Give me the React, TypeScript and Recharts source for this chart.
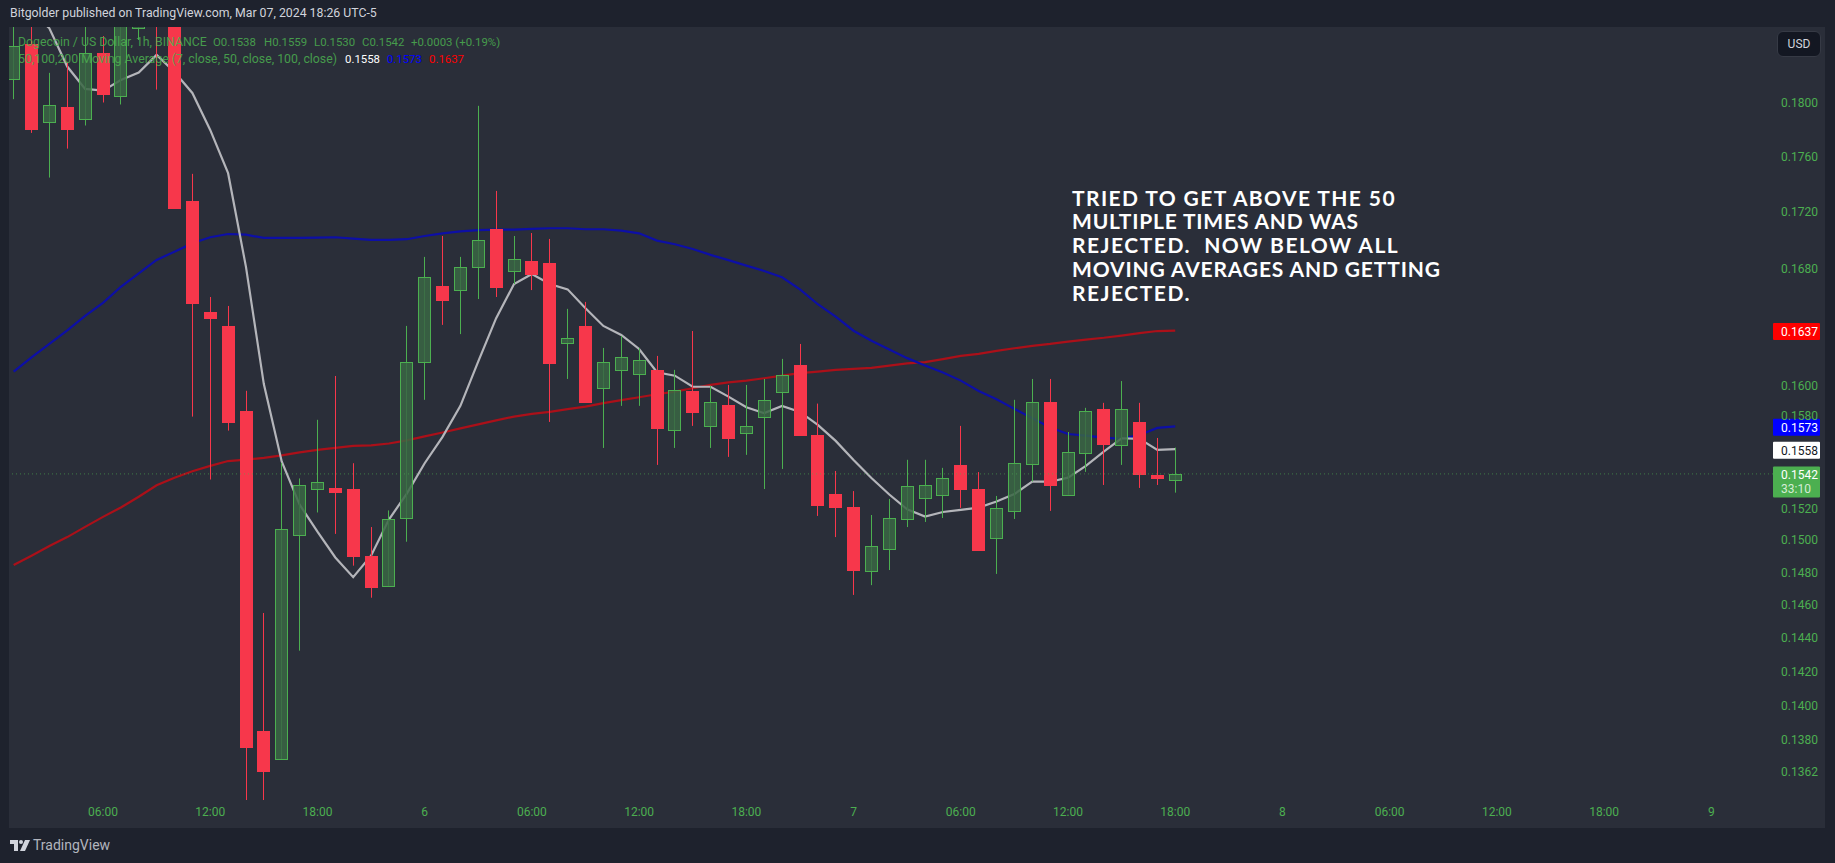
import { ComposedChart, Bar, Line, XAxis, YAxis, ReferenceLine } from 'recharts';

const opens = [
  0.18184, 0.18449, 0.17857, 0.17971, 0.17879, 0.18378, 0.18056, 0.18572, 0.1895, 0.188, 0.1728,
  0.16499, 0.16402, 0.15831, 0.13852, 0.1369, 0.15035, 0.15322, 0.1533, 0.15324, 0.14901, 0.14717,
  0.15137, 0.16155, 0.16677, 0.16647, 0.16808, 0.17076, 0.16785, 0.16853, 0.16839, 0.16288, 0.16402,
  0.15985, 0.16106, 0.16079, 0.16104, 0.15708, 0.15963, 0.15734, 0.15871, 0.15688, 0.15793, 0.15958,
  0.16137, 0.15673, 0.15291, 0.15209, 0.1481, 0.14947, 0.15135, 0.15268, 0.15287, 0.15478, 0.15323,
  0.15015, 0.15186, 0.15487, 0.1589, 0.15287, 0.15558, 0.15844, 0.1561, 0.15758, 0.15413, 0.1538,
];
const highs = [
  0.1885, 0.188, 0.18228, 0.18312, 0.187, 0.1851, 0.188, 0.1885, 0.1905, 0.189, 0.17476, 0.16601,
  0.16539, 0.15964, 0.14551, 0.15491, 0.15391, 0.15772, 0.16063, 0.15489, 0.15082, 0.15187, 0.16402,
  0.16881, 0.17029, 0.16881, 0.17979, 0.17352, 0.17029, 0.1705, 0.17008, 0.16519, 0.16567, 0.16252,
  0.16333, 0.16252, 0.16198, 0.16104, 0.16367, 0.15996, 0.16003, 0.16003, 0.16043, 0.16178, 0.16279,
  0.15879, 0.15439, 0.1531, 0.15158, 0.1526, 0.15511, 0.15511, 0.15459, 0.15732, 0.15432, 0.15279,
  0.15904, 0.16043, 0.16043, 0.15692, 0.15851, 0.15884, 0.16029, 0.15884, 0.15653, 0.1559,
];
const lows = [
  0.18029, 0.17777, 0.17449, 0.17661, 0.17832, 0.18004, 0.17989, 0.1848, 0.18101, 0.17225, 0.15793,
  0.15384, 0.15701, 0.1345, 0.1345, 0.1369, 0.14324, 0.15174, 0.15039, 0.14841, 0.14644, 0.14717,
  0.1499, 0.15904, 0.16409, 0.16346, 0.16587, 0.16601, 0.16691, 0.16649, 0.15758, 0.16043, 0.15884,
  0.15588, 0.15864, 0.15864, 0.15478, 0.15588, 0.15732, 0.15588, 0.1553, 0.15543, 0.15323, 0.15452,
  0.15666, 0.15152, 0.15019, 0.14661, 0.14721, 0.14814, 0.15082, 0.15114, 0.15139, 0.15203, 0.14932,
  0.1479, 0.15133, 0.15371, 0.15184, 0.15287, 0.15433, 0.15349, 0.15478, 0.1533, 0.15349, 0.153,
];
const closes = [
  0.18434, 0.17802, 0.17984, 0.17795, 0.18378, 0.18063, 0.187, 0.1875, 0.1875, 0.17225, 0.16556,
  0.16452, 0.15749, 0.13755, 0.13619, 0.15067, 0.15346, 0.15366, 0.15295, 0.14897, 0.14706, 0.1513,
  0.16155, 0.16738, 0.16574, 0.16808, 0.16999, 0.16663, 0.16865, 0.16754, 0.16144, 0.16317, 0.15884,
  0.16156, 0.16189, 0.16169, 0.15711, 0.15968, 0.15818, 0.15888, 0.15647, 0.1573, 0.15902, 0.16069,
  0.15666, 0.15215, 0.15203, 0.14808, 0.14961, 0.15137, 0.1534, 0.15347, 0.15392, 0.15317, 0.14932,
  0.15201, 0.15489, 0.15888, 0.15342, 0.1556, 0.15829, 0.15608, 0.15842, 0.15413, 0.15387, 0.1542,
];
const ma7 = [
  0.1885, 0.187, 0.1857, 0.18276, 0.18106, 0.18093, 0.18174, 0.1823, 0.18365, 0.18235, 0.18076,
  0.17799, 0.17481, 0.16811, 0.16009, 0.155, 0.15224, 0.15053, 0.14892, 0.1477, 0.14903, 0.15129,
  0.15294, 0.15489, 0.1566, 0.15864, 0.16161, 0.16455, 0.16691, 0.16761, 0.16691, 0.16654, 0.16523,
  0.16402, 0.1634, 0.16245, 0.16088, 0.16065, 0.15991, 0.15991, 0.15925, 0.15855, 0.15816, 0.15864,
  0.15824, 0.15739, 0.15634, 0.1551, 0.15394, 0.15288, 0.15194, 0.15148, 0.15177, 0.1519, 0.15205,
  0.15243, 0.15291, 0.1537, 0.1537, 0.15396, 0.15472, 0.15564, 0.15651, 0.15647, 0.15575, 0.1558,
];
const ma50 = [
  0.16092, 0.16188, 0.1628, 0.16371, 0.1647, 0.16561, 0.16672, 0.16766, 0.1686, 0.16918, 0.16977,
  0.1702, 0.17043, 0.17038, 0.17015, 0.17015, 0.17015, 0.17017, 0.1702, 0.1701, 0.17001, 0.17001,
  0.17006, 0.17029, 0.17048, 0.17062, 0.1707, 0.17074, 0.17074, 0.17079, 0.17084, 0.17084, 0.17077,
  0.17077, 0.17067, 0.17048, 0.16996, 0.1697, 0.16937, 0.16895, 0.16858, 0.1682, 0.16782, 0.16738,
  0.16654, 0.16551, 0.16466, 0.16369, 0.16301, 0.16241, 0.16183, 0.16133, 0.16086, 0.16032, 0.15963,
  0.15908, 0.15844, 0.15783, 0.15721, 0.15679, 0.15668, 0.15655, 0.15647, 0.15673, 0.15719, 0.15729,
];
const ma100 = [
  0.14845, 0.14903, 0.14963, 0.15019, 0.15083, 0.15146, 0.15206, 0.15274, 0.15347, 0.15396, 0.15437,
  0.15472, 0.15503, 0.15512, 0.15524, 0.1554, 0.15559, 0.15575, 0.15588, 0.15601, 0.15605, 0.15617,
  0.15637, 0.15663, 0.15689, 0.15716, 0.15742, 0.15768, 0.15793, 0.15811, 0.15824, 0.15842, 0.15859,
  0.15882, 0.15902, 0.15921, 0.15941, 0.15958, 0.15981, 0.16003, 0.1602, 0.16032, 0.16048, 0.16065,
  0.16082, 0.16092, 0.16104, 0.1611, 0.16117, 0.16133, 0.16148, 0.16156, 0.16176, 0.16198, 0.16212,
  0.16232, 0.1625, 0.16266, 0.16279, 0.16295, 0.16309, 0.16321, 0.16336, 0.16353, 0.16367, 0.1637,
];
const timeTicks = [6, 12, 18, 24, 30, 36, 42, 48, 54, 60, 66, 72, 78, 84, 90, 96];
const timeLabels = [
  '06:00', '12:00', '18:00', '6', '06:00', '12:00', '18:00', '7',
  '06:00', '12:00', '18:00', '8', '06:00', '12:00', '18:00', '9',
];
const priceTicks = [
  0.18, 0.176, 0.172, 0.168, 0.16, 0.158, 0.152, 0.15, 0.148, 0.146, 0.144, 0.142, 0.14, 0.138,
  0.1362,
];
const noteLines = [
  'TRIED TO GET ABOVE THE 50',
  'MULTIPLE TIMES AND WAS',
  'REJECTED.  NOW BELOW ALL',
  'MOVING AVERAGES AND GETTING',
  'REJECTED.',
];
const noteSpacing = [1.4, 0.8, 1.5, 0.85, 1.5];

const data = opens.map((open, i) => ({
  hour: i + 1,
  open,
  close: closes[i],
  high: highs[i],
  low: lows[i],
  range: [lows[i], highs[i]],
  ma7: ma7[i],
  ma50: ma50[i],
  ma100: ma100[i],
}));

const GREEN = '#4caf50';
const RED = '#f7374b';
const FONT = 'Roboto, sans-serif';

const Candle = (props: any) => {
  const { x, y, width, height, payload } = props;
  const { open, close, high, low } = payload;
  const up = close >= open;
  // the axis is logarithmic, so body edges sit at log fractions of the wick
  const span = Math.log(high / low);
  const at = (v: number) => y + (height * Math.log(high / v)) / span;
  const cx = Math.round(x + width / 2);
  const top = Math.round(at(Math.max(open, close)));
  const bottom = Math.round(at(Math.min(open, close)));
  const color = up ? GREEN : RED;
  return (
    <g>
      <line x1={cx + 0.5} x2={cx + 0.5} y1={y} y2={y + height} stroke={color} strokeWidth={1} />
      {up ? (
        <rect
          x={cx - 5.5}
          y={top + 0.5}
          width={12}
          height={Math.max(bottom - top, 1)}
          fill="#3a6644"
          fillOpacity={0.85}
          stroke={GREEN}
          strokeWidth={1}
        />
      ) : (
        <rect x={cx - 6} y={top} width={13} height={Math.max(bottom - top, 1)} fill={RED} />
      )}
    </g>
  );
};

const Badge = (props: any) => {
  const { viewBox, text, sub, fill, color = '#fff' } = props;
  const top = viewBox.y - 7.5;
  const left = viewBox.x + viewBox.width;
  return (
    <g>
      <rect x={left} y={top} width={47} height={sub ? 31 : 17} rx={1} fill={fill} />
      <text x={left + 8} y={top + 13} fontSize={12} fontFamily={FONT} fill={color}>
        {text}
      </text>
      {sub && (
        <text x={left + 8} y={top + 27} fontSize={12} fontFamily={FONT} fill="#d5ecd6">
          {sub}
        </text>
      )}
    </g>
  );
};

const legendSpan = (left: number, top: number, text: string, fontSize = 11.4, color = GREEN, opacity = 0.85) => (
  <div style={{ position: 'absolute', left, top, fontSize, color, opacity, whiteSpace: 'pre' }}>{text}</div>
);

export default function App() {
  return (
    <div style={{ position: 'absolute', left: 0, top: 0, width: 1835, height: 863, background: '#1e222d', overflow: 'hidden', fontFamily: FONT }}>
      <div style={{ position: 'absolute', left: 9, top: 27, width: 1816, height: 801, background: '#2a2e39' }} />

      <div style={{ position: 'absolute', left: 0, top: 0 }}>
        <ComposedChart
          width={1835}
          height={863}
          data={data}
          margin={{ top: 27, right: 10, bottom: 35, left: 9 }}
          barSize={13}
        >
          <XAxis
            type="number"
            dataKey="hour"
            scale="linear"
            domain={[0.74, 99.45]}
            allowDataOverflow
            ticks={timeTicks}
            interval={0}
            height={28}
            axisLine={false}
            tickLine={false}
            tickSize={0}
            tickMargin={7}
            tick={{ fill: GREEN, fontSize: 12, fontFamily: FONT }}
            tickFormatter={(v: number) => timeLabels[timeTicks.indexOf(v)]}
          />
          <YAxis
            orientation="right"
            scale="log"
            domain={[0.13459, 0.1858]}
            allowDataOverflow
            ticks={priceTicks}
            interval={0}
            width={52}
            axisLine={false}
            tickLine={false}
            tickSize={0}
            tickMargin={8}
            tick={{ fill: GREEN, fontSize: 12, fontFamily: FONT }}
            tickFormatter={(v: number) => v.toFixed(4)}
          />
          <ReferenceLine y={0.1542} stroke={GREEN} strokeOpacity={0.6} strokeDasharray="1 3" />
          <Line dataKey="ma100" stroke="#ab1019" strokeWidth={2.2} dot={false} isAnimationActive={false} zIndex={250} />
          <Line dataKey="ma50" stroke="#0d0fa6" strokeWidth={2.2} dot={false} isAnimationActive={false} zIndex={250} />
          <Line dataKey="ma7" stroke="#b4b5ba" strokeWidth={2.2} dot={false} isAnimationActive={false} zIndex={250} />
          <Bar dataKey="range" shape={<Candle />} isAnimationActive={false} />
          <ReferenceLine y={0.1637} stroke="none" label={<Badge text="0.1637" fill="#ff0000" />} />
          <ReferenceLine y={0.1573} stroke="none" label={<Badge text="0.1573" fill="#0000ff" />} />
          <ReferenceLine y={0.1558} stroke="none" label={<Badge text="0.1558" fill="#ffffff" color="#131722" />} />
          <ReferenceLine y={0.1542} stroke="none" label={<Badge text="0.1542" sub="33:10" fill={GREEN} />} />
        </ComposedChart>
      </div>

      <div style={{ position: 'absolute', left: 10, top: 6, fontSize: 12.3, color: '#d1d4dc', whiteSpace: 'nowrap' }}>
        Bitgolder published on TradingView.com, Mar 07, 2024 18:26 UTC-5
      </div>
      {legendSpan(18, 35, 'Dogecoin / US Dollar, 1h, BINANCE', 12.3)}
      {legendSpan(213, 35, 'O0.1538')}
      {legendSpan(264, 35, 'H0.1559')}
      {legendSpan(314, 35, 'L0.1530')}
      {legendSpan(362, 35, 'C0.1542')}
      {legendSpan(411, 35, '+0.0003 (+0.19%)')}
      {legendSpan(18, 52, '50,100,200 Moving Average (7, close, 50, close, 100, close)', 12.3)}
      {legendSpan(345, 52, '0.1558', 11.4, '#ffffff', 1)}
      {legendSpan(387, 52, '0.1573', 11.4, '#0000ff', 1)}
      {legendSpan(429, 52, '0.1637', 11.4, '#ff0000', 1)}

      <div style={{ position: 'absolute', left: 1072, top: 185.5, color: '#ffffff', fontSize: 21, fontWeight: 700, lineHeight: '23.75px', fontFamily: 'Lato, sans-serif', whiteSpace: 'pre' }}>
        {noteLines.map((line, i) => (
          <div key={i} style={{ letterSpacing: noteSpacing[i] }}>{line}</div>
        ))}
      </div>

      <div style={{ position: 'absolute', left: 1777, top: 31, width: 44, height: 26, boxSizing: 'border-box', background: '#131722', border: '1px solid #363a45', borderRadius: 6, color: '#d1d4dc', fontSize: 12, lineHeight: '24px', textAlign: 'center' }}>
        USD
      </div>

      <svg style={{ position: 'absolute', left: 10, top: 840 }} width={20} height={12} viewBox="0 0 20 12">
        <path d="M0 0H8V11H4V4H0Z" fill="#d1d4dc" />
        <circle cx={11} cy={2} r={2} fill="#d1d4dc" />
        <path d="M15 0H20L15 11H10Z" fill="#d1d4dc" />
      </svg>
      <div style={{ position: 'absolute', left: 33, top: 837, fontSize: 14, color: '#b2b5be', whiteSpace: 'nowrap' }}>TradingView</div>
    </div>
  );
}
